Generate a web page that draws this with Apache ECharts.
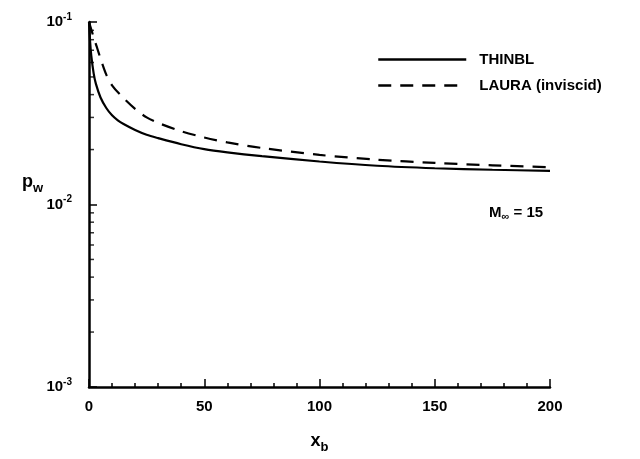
<!DOCTYPE html>
<html>
<head>
<meta charset="utf-8">
<script src="https://cdn.jsdelivr.net/npm/echarts@6/dist/echarts.min.js"></script>
<style>html,body{margin:0;padding:0;background:#fff}#c{width:640px;height:459px}</style>
</head>
<body>
<div id="c"></div>
<script>
const xTicks = [0, 50, 100, 150, 200];
const yTicks = [0.001, 0.01, 0.1];
const thinblX = [0, 0.5, 1, 2, 3, 5, 7.5, 10, 12.5, 15, 20, 25, 30, 40, 50, 60, 75, 100, 125, 150, 175, 200];
const thinblP = [0.1, 0.0774, 0.0652, 0.0525, 0.0458, 0.0386, 0.0338, 0.0308, 0.0289, 0.0276, 0.0256, 0.0241, 0.0231, 0.0214, 0.0201, 0.0193, 0.0184, 0.0172, 0.0163, 0.0158, 0.0155, 0.0153];
const lauraX = [0, 1, 2, 3.5, 5, 7.5, 10, 14, 20, 25, 30, 40, 50, 60, 75, 100, 125, 150, 175, 200];
const lauraP = [0.1, 0.0908, 0.0826, 0.0723, 0.0631, 0.0515, 0.045, 0.0394, 0.0334, 0.0300, 0.0280, 0.0252, 0.0233, 0.0219, 0.0204, 0.0187, 0.0176, 0.0169, 0.0164, 0.0160];
const minorY = [0.002,0.003,0.004,0.005,0.006,0.007,0.008,0.009,0.02,0.03,0.04,0.05,0.06,0.07,0.08,0.09];

const F = 'Liberation Sans, Arial, sans-serif';
const chart = echarts.init(document.getElementById('c'));
chart.setOption({
  animation: false,
  backgroundColor: '#fff',
  grid: {left: 89, right: 90, top: 22, bottom: 67},
  legend: {
    orient: 'vertical', left: 372, top: 47, itemWidth: 88, itemHeight: 16, itemGap: 11,
    data: ['THINBL', 'LAURA (inviscid)'],
    itemStyle: {opacity: 0},
    lineStyle: {width: 2.5},
    textStyle: {fontFamily: F, fontWeight: 'bold', fontSize: 15, color: '#000', padding: [0,0,0,8]}
  },
  xAxis: {
    type: 'value', min: xTicks[0], max: xTicks[xTicks.length-1], interval: 50,
    name: 'x{s|b}', nameLocation: 'middle', nameGap: 42,
    nameTextStyle: {fontFamily: F, fontWeight: 'bold', fontSize: 18, color: '#000',
      rich: {s: {fontFamily: F, fontWeight: 'bold', fontSize: 13, color: '#000', padding: [12,0,0,0]}}},
    axisLine: {show: true, lineStyle: {color: '#000', width: 2.5}},
    axisTick: {show: true, inside: true, length: 8, lineStyle: {color: '#000', width: 1.5}},
    minorTick: {show: true, splitNumber: 5, length: 4, lineStyle: {color: '#000', width: 1.5}},
    splitLine: {show: false},
    axisLabel: {margin: 12, fontFamily: F, fontWeight: 'bold', fontSize: 15, color: '#000'}
  },
  yAxis: {
    type: 'log', logBase: 10, min: yTicks[0], max: yTicks[yTicks.length-1],
    axisLine: {show: true, lineStyle: {color: '#000', width: 2.5}},
    axisTick: {show: true, inside: true, length: 8, lineStyle: {color: '#000', width: 1.5}},
    splitLine: {show: false},
    axisLabel: {
      margin: 17,
      formatter: function (v) { return '{b|10}{s|' + Math.round(Math.log10(v)) + '}'; },
      rich: {
        b: {fontFamily: F, fontWeight: 'bold', fontSize: 15, color: '#000'},
        s: {fontFamily: F, fontWeight: 'bold', fontSize: 10, color: '#000', padding: [0,0,10,0]}
      }
    }
  },
  graphic: [
    {type: 'text', left: 22, top: 173, style: {text: 'p{s|w}', font: 'bold 18px ' + F, fill: '#000',
      rich: {s: {font: 'bold 13px ' + F, fill: '#000', padding: [12,0,0,0]}}}},
    {type: 'text', left: 489, top: 205, style: {text: 'M{s|∞} = 15', font: 'bold 15px ' + F, fill: '#000',
      rich: {s: {font: 'bold 11px ' + F, fill: '#000', padding: [9,0,0,0]}}}}
  ],
  series: [
    {name: 'THINBL', type: 'line', showSymbol: false, symbol: 'none', smooth: 0.3,
      data: thinblX.map((x, i) => [x, thinblP[i]]),
      lineStyle: {color: '#000', width: 2.2}, itemStyle: {color: '#000'}},
    {name: 'LAURA (inviscid)', type: 'line', showSymbol: false, symbol: 'none', smooth: 0.3,
      data: lauraX.map((x, i) => [x, lauraP[i]]),
      lineStyle: {color: '#000', width: 2.2, type: [13, 9]}, itemStyle: {color: '#000'}},
    {name: 'minor', type: 'scatter', silent: true, symbol: 'rect', symbolSize: [5, 1.5], symbolOffset: [2.5, 0],
      data: minorY.map(v => [0, v]), itemStyle: {color: '#000'}, z: 5}
  ]
});
</script>
</body>
</html>
